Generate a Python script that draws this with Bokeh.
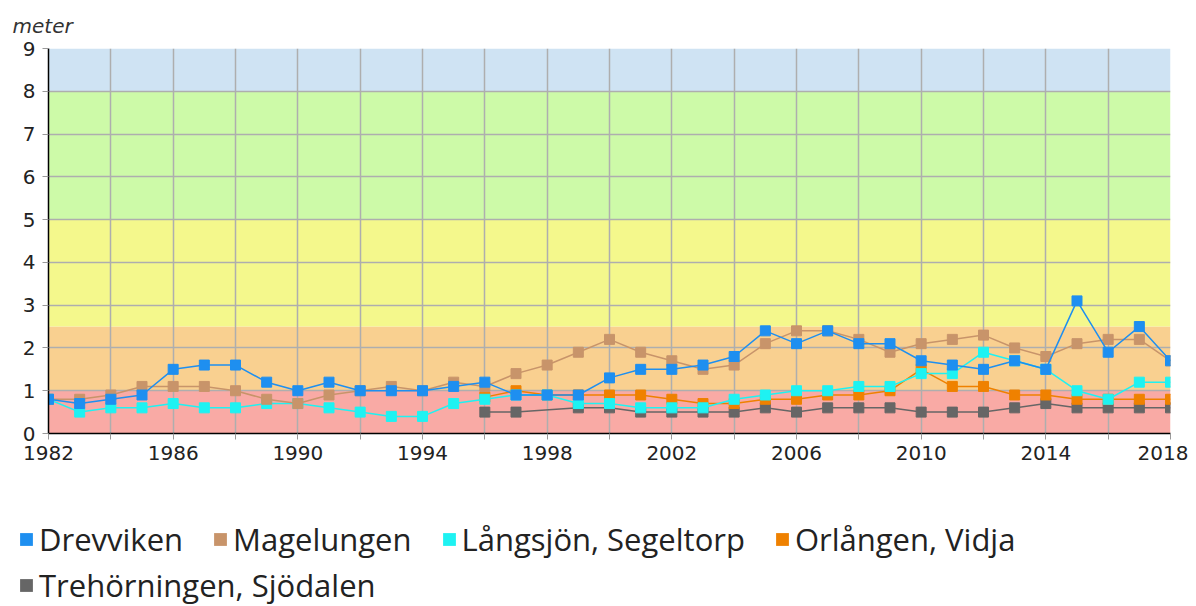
from bokeh.plotting import figure
from bokeh.models import Range1d, FixedTicker, Legend, LegendItem
from bokeh.layouts import column
from bokeh.embed import file_html
from bokeh.resources import INLINE

years = list(range(1982, 2019))

drevviken = [0.8, 0.7, 0.8, 0.9, 1.5, 1.6, 1.6, 1.2, 1.0, 1.2,
             1.0, 1.0, 1.0, 1.1, 1.2, 0.9, 0.9, 0.9, 1.3, 1.5,
             1.5, 1.6, 1.8, 2.4, 2.1, 2.4, 2.1, 2.1, 1.7, 1.6,
             1.5, 1.7, 1.5, 3.1, 1.9, 2.5, 1.7]
magelungen = [0.8, 0.8, 0.9, 1.1, 1.1, 1.1, 1.0, 0.8, 0.7, 0.9,
              1.0, 1.1, 1.0, 1.2, 1.1, 1.4, 1.6, 1.9, 2.2, 1.9,
              1.7, 1.5, 1.6, 2.1, 2.4, 2.4, 2.2, 1.9, 2.1, 2.2,
              2.3, 2.0, 1.8, 2.1, 2.2, 2.2, 1.7]
langsjon = [0.8, 0.5, 0.6, 0.6, 0.7, 0.6, 0.6, 0.7, 0.7, 0.6,
            0.5, 0.4, 0.4, 0.7, 0.8, 0.9, 0.9, 0.7, 0.7, 0.6,
            0.6, 0.6, 0.8, 0.9, 1.0, 1.0, 1.1, 1.1, 1.4, 1.4,
            1.9, 1.7, 1.5, 1.0, 0.8, 1.2, 1.2]
orlangen = [None] * 14 + [0.85, 1.0, 0.9, 0.9, 0.9, 0.9, 0.8, 0.7, 0.7, 0.8,
                          0.8, 0.9, 0.9, 1.0, 1.5, 1.1, 1.1, 0.9, 0.9, 0.8,
                          0.8, 0.8, 0.8]
trehorningen = [None] * 14 + [0.5, 0.5, None, 0.6, 0.6, 0.5, 0.5, 0.5, 0.5, 0.6,
                              0.5, 0.6, 0.6, 0.6, 0.5, 0.5, 0.5, 0.6, 0.7, 0.6,
                              0.6, 0.6, 0.6]

names = ["Drevviken", "Magelungen", "Långsjön, Segeltorp", "Orlången, Vidja",
         "Trehörningen, Sjödalen"]
series = [drevviken, magelungen, langsjon, orlangen, trehorningen]
colors = ["#1e8ff0", "#c8946a", "#1ef2f2", "#ef8100", "#666666"]

band_bottoms = [0, 1, 2.5, 5, 8]
band_tops = [1, 2.5, 5, 8, 9]
band_colors = ["#f9aaa5", "#f9d090", "#f4f88c", "#cdfaa8", "#cfe3f3"]

y_ticks = list(range(0, 10))
x_ticks = list(range(years[0], years[-1] + 1, 2))

W = 1188

p = figure(width=W, height=468,
           x_range=Range1d(years[0], years[-1]), y_range=Range1d(0, 9),
           output_backend="svg", toolbar_location=None,
           min_border_left=48, min_border_right=18,
           min_border_top=47, min_border_bottom=35)
p.outline_line_color = None
p.background_fill_color = "white"
p.frame_align = False

p.quad(left=[years[0]] * len(band_bottoms), right=[years[-1]] * len(band_bottoms),
       bottom=band_bottoms, top=band_tops, fill_color=band_colors,
       line_color=None, level="image")

# draw in reverse so Drevviken is on top
for name, vals, col in reversed(list(zip(names, series, colors))):
    xs = [y for y, v in zip(years, vals) if v is not None]
    ys = [v for v in vals if v is not None]
    p.line(xs, ys, line_color=col, line_width=1.5)
    p.scatter(xs, ys, marker="square", size=10, fill_color=col, line_color=col)

p.xaxis.ticker = FixedTicker(ticks=x_ticks)
p.xaxis.major_label_overrides = {t: ("" if (t - years[0]) % 4 else str(t)) for t in x_ticks}
p.yaxis.ticker = FixedTicker(ticks=y_ticks)
p.xgrid.ticker = FixedTicker(ticks=x_ticks)
p.ygrid.ticker = FixedTicker(ticks=y_ticks)
for g in (p.xgrid, p.ygrid):
    g.grid_line_color = "#aeaeae"
    g.grid_line_width = 1.5

for ax in (p.xaxis, p.yaxis):
    ax.axis_line_color = "black"
    ax.axis_line_width = 1.5
    ax.major_tick_line_color = "#999999"
    ax.major_tick_out = 6
    ax.major_tick_in = 0
    ax.minor_tick_line_color = None
    ax.major_label_text_font = "DejaVu Sans"
    ax.major_label_text_font_size = "20px"
    ax.major_label_text_color = "#222222"
p.xaxis.major_label_standoff = 6
p.yaxis.major_label_standoff = 7

p.title.text = "meter"
p.title.text_font = "DejaVu Sans"
p.title.text_font_style = "italic"
p.title.text_font_size = "20px"
p.title.text_color = "#333333"
p.title.align = "left"
p.title.offset = -36
p.title.standoff = 22

# legend figure
lf = figure(width=W, height=138, x_range=Range1d(0, 1), y_range=Range1d(0, 1),
            output_backend="svg", toolbar_location=None,
            x_axis_type=None, y_axis_type=None, min_border=0)
lf.outline_line_color = None
lf.xgrid.visible = False
lf.ygrid.visible = False
lf.frame_align = False

rends = []
for col in colors:
    # zero-area swatch sources (invisible), used only for legend glyphs
    rends.append(lf.quad(left=[0], right=[0], top=[0], bottom=[0],
                         fill_color=col, line_color=None))

def make_legend(idx, loc):
    return Legend(items=[LegendItem(label=names[i], renderers=[rends[i]]) for i in idx],
                  orientation="horizontal", location=loc,
                  glyph_width=16, glyph_height=16, label_standoff=5, spacing=29,
                  padding=0, margin=0, border_line_color=None, background_fill_alpha=0,
                  label_text_font="Open Sans", label_text_font_size="31px",
                  label_text_color="#222222")

lf.add_layout(make_legend([0, 1, 2, 3], (18, 46)))
lf.add_layout(make_legend([4], (18, 0)))

layout = column(p, lf)
open("out.html", "w").write(file_html(layout, INLINE))
